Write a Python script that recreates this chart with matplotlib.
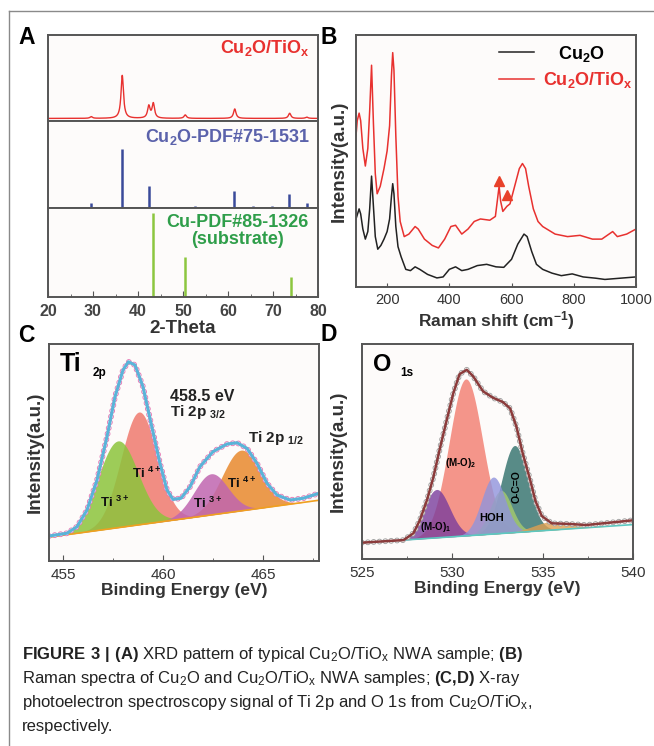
import numpy as np
import matplotlib
matplotlib.use('Agg')
import matplotlib.pyplot as plt
from matplotlib import font_manager

names = {f.name for f in font_manager.fontManager.ttflist}
narrow = 'Liberation Sans Narrow' if 'Liberation Sans Narrow' in names else 'Liberation Sans'

plt.rcParams['font.family'] = ['Liberation Sans', 'DejaVu Sans']
plt.rcParams['mathtext.fontset'] = 'custom'
plt.rcParams['mathtext.bf'] = narrow + ':bold'
plt.rcParams['mathtext.default'] = 'regular'
plt.rcParams['lines.scale_dashes'] = False

# ---------------- data ----------------
# A: XRD, measured Cu2O/TiOx peaks (2theta, height above baseline)
xrd_pos = [29.6, 36.5, 42.4, 43.4, 50.5, 61.5, 73.7, 77.5]
xrd_h = [0.02, 0.50, 0.14, 0.17, 0.04, 0.11, 0.06, 0.015]
xrd_base = 0.03
# reference sticks
cu2o_pdf_pos = [29.6, 36.5, 42.4, 52.6, 61.4, 65.6, 69.7, 73.6, 77.5]
cu2o_pdf_h = [0.06, 0.68, 0.25, 0.02, 0.20, 0.02, 0.02, 0.16, 0.06]
cu_pdf_pos = [43.3, 50.4, 74.1]
cu_pdf_h = [0.94, 0.45, 0.22]

# B: Raman spectra
raman_x_black = [100, 105, 110, 115, 122, 130, 138, 144, 150, 156, 162, 170, 180, 190, 200,
                 208, 214, 218, 222, 228, 235, 245, 260, 275, 290, 305, 330, 360, 380, 400,
                 420, 440, 460, 490, 520, 550, 575, 600, 620, 640, 650, 665, 680, 700, 730,
                 760, 795, 830, 870, 900, 950, 1000]
raman_y_black = [0.27, 0.29, 0.31, 0.29, 0.23, 0.19, 0.22, 0.31, 0.44, 0.32, 0.20, 0.15, 0.165,
                 0.19, 0.22, 0.27, 0.36, 0.41, 0.37, 0.24, 0.16, 0.12, 0.07, 0.065, 0.08, 0.07,
                 0.05, 0.036, 0.04, 0.07, 0.08, 0.065, 0.07, 0.085, 0.09, 0.08, 0.078, 0.11,
                 0.17, 0.21, 0.20, 0.14, 0.09, 0.07, 0.055, 0.045, 0.052, 0.04, 0.035, 0.03,
                 0.035, 0.04]
raman_x_red = [100, 104, 110, 115, 122, 130, 138, 144, 150, 156, 162, 168, 178, 190, 200, 208,
               214, 218, 222, 228, 235, 242, 255, 270, 290, 300, 320, 345, 365, 385, 405, 420,
               440, 460, 480, 500, 530, 548, 555, 560, 565, 572, 585, 595, 610, 625, 635, 645,
               655, 670, 685, 700, 740, 780, 820, 860, 890, 925, 940, 970, 1000]
raman_y_red = [0.60, 0.66, 0.69, 0.66, 0.55, 0.48, 0.55, 0.70, 0.88, 0.65, 0.45, 0.37, 0.40,
               0.47, 0.54, 0.64, 0.84, 0.93, 0.86, 0.60, 0.36, 0.26, 0.20, 0.21, 0.24, 0.23,
               0.19, 0.165, 0.155, 0.19, 0.24, 0.245, 0.21, 0.23, 0.26, 0.27, 0.265, 0.28,
               0.35, 0.40, 0.34, 0.30, 0.32, 0.33, 0.40, 0.47, 0.49, 0.47, 0.40, 0.31, 0.26,
               0.24, 0.21, 0.20, 0.205, 0.19, 0.19, 0.22, 0.20, 0.21, 0.23]
tri_x = [560, 585]
tri_y = [0.42, 0.365]

# C: Ti 2p, measured envelope and fit components (center eV, height, sigma)
ti_env_x = [454.3, 455.2, 455.7, 456.2, 456.7, 457.2, 457.6, 458.0, 458.27, 458.6, 459.0,
            459.4, 459.85, 460.2, 460.5, 460.9, 461.35, 461.85, 462.5, 463.2, 463.7, 464.2,
            464.7, 465.2, 465.7, 466.35, 467.0, 467.8]
ti_env_y = [0.115, 0.128, 0.158, 0.235, 0.373, 0.573, 0.757, 0.88, 0.918, 0.903, 0.803,
            0.635, 0.45, 0.327, 0.284, 0.289, 0.342, 0.435, 0.504, 0.539, 0.545, 0.519,
            0.45, 0.358, 0.304, 0.281, 0.289, 0.312]
ti_center = [458.8, 457.75, 463.9, 462.4]
ti_height = [0.52, 0.40, 0.28, 0.19]
ti_sigma = [0.90, 1.00, 0.95, 0.85]
ti_colors = ['#f07a6e', '#8cc43c', '#e8892e', '#c066b0']
ti_bg = (0.11, 0.28)
ti_xlim = (454.3, 467.8)

# D: O 1s, measured envelope and fit components
o_env_x = [525.0, 527.3, 527.85, 528.2, 528.6, 528.95, 529.3, 529.7, 530.05, 530.4, 530.8,
           531.15, 531.7, 532.25, 532.8, 533.2, 533.55, 533.9, 534.3, 534.6, 534.95, 535.5,
           536.5, 537.4, 538.35, 539.3, 540.0]
o_env_y = [0.076, 0.088, 0.12, 0.18, 0.275, 0.38, 0.51, 0.65, 0.77, 0.86, 0.88, 0.85, 0.78,
           0.75, 0.73, 0.70, 0.615, 0.49, 0.37, 0.27, 0.20, 0.166, 0.163, 0.158, 0.166,
           0.174, 0.18]
o_center = [530.75, 529.13, 533.45, 532.7, 532.27, 535.5]
o_height = [0.73, 0.225, 0.405, 0.20, 0.265, 0.04]
o_sigma = [0.92, 0.72, 0.72, 0.60, 0.65, 1.00]
o_colors = ['#f27c6e', '#7a3d9c', '#2f6f6a', '#a8cc6e', '#9094dc', '#e0a050']
o_bg = (0.075, 0.16)
o_xlim = (525, 540)


def gauss(x, c, h, s):
    return h * np.exp(-(x - c) ** 2 / (2 * s ** 2))


def lorentz(x, c, h, w):
    return h / (1 + ((x - c) / w) ** 2)


W, H = 654, 746
fig = plt.figure(figsize=(W / 100, H / 100), dpi=100)
fig.patch.set_facecolor('white')
PANEL_BG = '#fdfbfa'


def box(x0, y0, x1, y1):
    return [x0 / W, 1 - y1 / H, (x1 - x0) / W, (y1 - y0) / H]


def style(ax):
    ax.set_facecolor(PANEL_BG)
    for s in ax.spines.values():
        s.set_color('#555555')
        s.set_linewidth(1.4)
    ax.set_yticks([])


def xps_data(ax, ex, ey, ring, line, lw):
    # open circles of the measured points, then the fitted envelope on top
    dots = (0, (0.01, 4.2))
    ax.plot(ex, ey, color=ring, lw=4.2, ls=dots, dash_capstyle='round')
    ax.plot(ex, ey, color=PANEL_BG, lw=2.9, ls=dots, dash_capstyle='round')
    ax.plot(ex, ey, color=line, lw=lw, solid_joinstyle='round')


# frame lines
fig.add_artist(plt.Line2D([9 / W, 1], [1 - 11 / H, 1 - 11 / H], color='#8a8a8a', lw=1))
fig.add_artist(plt.Line2D([9 / W, 9 / W], [0, 1 - 11 / H], color='#8a8a8a', lw=1))

# ---------------- A ----------------
axA1 = fig.add_axes(box(48, 35, 318, 121))
axA2 = fig.add_axes(box(48, 121, 318, 208))
axA3 = fig.add_axes(box(48, 208, 318, 297))
for ax in (axA1, axA2, axA3):
    style(ax)
    ax.set_xlim(20, 80)
    ax.set_ylim(0, 1)
for ax in (axA1, axA2):
    ax.set_xticks([])

x = np.linspace(20, 80, 3000)
y = np.full_like(x, xrd_base)
for c, h in zip(xrd_pos, xrd_h):
    y += lorentz(x, c, h, 0.33)
axA1.plot(x, y, color='#e8312f', lw=1.0)
axA1.text(0.97, 0.85, 'Cu$_2$O/TiO$_x$', transform=axA1.transAxes, ha='right', va='center',
          color='#e8312f', fontsize=13, fontweight='bold')

axA2.vlines(cu2o_pdf_pos, 0, cu2o_pdf_h, color='#3a4a9a', lw=1.8)
axA2.text(0.97, 0.815, 'Cu$_2$O-PDF#75-1531', transform=axA2.transAxes, ha='right', va='center',
          color='#5b62ab', fontsize=13, fontweight='bold')

axA3.vlines(cu_pdf_pos, 0, cu_pdf_h, color='#8cc63f', lw=1.8)
axA3.text(0.70, 0.74, 'Cu-PDF#85-1326\n(substrate)', transform=axA3.transAxes, ha='center',
          va='center', color='#2f9e4a', fontsize=13, fontweight='bold', linespacing=1.05)
axA3.set_xticks(range(20, 81, 10))
axA3.set_xticks(range(25, 80, 10), minor=True)
axA3.tick_params(axis='x', which='major', direction='in', length=4, labelsize=11.5,
                 labelcolor='#444444', pad=5, color='#555555')
axA3.tick_params(axis='x', which='minor', direction='in', length=2.5, color='#555555')
for lbl in axA3.get_xticklabels():
    lbl.set_fontweight('bold')
axA3.set_xlabel('2-Theta', fontsize=13.5, fontweight='bold', color='#333333', labelpad=1)

# ---------------- B ----------------
axB = fig.add_axes(box(356, 35, 636, 287))
style(axB)
axB.set_xlim(100, 1000)
axB.set_ylim(0, 1)
axB.plot(raman_x_black, raman_y_black, color='#222222', lw=1.1, label='   Cu$_2$O')
axB.plot(raman_x_red, raman_y_red, color='#e8312f', lw=1.1, label='Cu$_2$O/TiO$_x$')
axB.plot(tri_x, tri_y, '^', color='#e8412a', ms=7)
axB.set_xticks(range(200, 1001, 200))
axB.tick_params(axis='x', direction='in', length=3, labelsize=10.5, labelcolor='#333333',
                color='#555555', pad=4)
axB.set_xlabel('Raman shift (cm$^{-1}$)', fontsize=12.5, fontweight='bold', color='#333333',
               labelpad=2)
axB.set_ylabel('Intensity(a.u.)', fontsize=13.5, fontweight='bold', color='#333333', labelpad=6)
leg = axB.legend(loc='upper right', bbox_to_anchor=(1.045, 1.03), frameon=False,
                 prop={'size': 13, 'weight': 'bold'}, handlelength=1.9, handletextpad=0.5,
                 labelspacing=0.35)
leg.get_texts()[1].set_color('#e8312f')

# ---------------- C ----------------
axC = fig.add_axes(box(49, 344, 319, 561))
style(axC)
axC.set_xlim(*ti_xlim)
axC.set_ylim(0, 1)
xc = np.linspace(ti_xlim[0], ti_xlim[1], 800)
bgc = ti_bg[0] + (ti_bg[1] - ti_bg[0]) * (xc - ti_xlim[0]) / (ti_xlim[1] - ti_xlim[0])
for c, h, s, col in zip(ti_center, ti_height, ti_sigma, ti_colors):
    axC.fill_between(xc, bgc, bgc + gauss(xc, c, h, s), color=col, alpha=0.85, lw=0)
axC.plot(xc, bgc, color='#f0a020', lw=1.2)
xps_data(axC, ti_env_x, ti_env_y, '#e678b4', '#5ab4d8', 2.2)
axC.set_xticks([455, 460, 465])
axC.set_xticks([457.5, 462.5, 467.5], minor=True)
axC.tick_params(axis='x', which='major', direction='in', length=4, labelsize=11,
                labelcolor='#333333', color='#555555', pad=5)
axC.tick_params(axis='x', which='minor', direction='in', length=2.5, color='#555555')
axC.set_xlabel('Binding Energy (eV)', fontsize=12.5, fontweight='bold', color='#333333',
               labelpad=1)
axC.set_ylabel('Intensity(a.u.)', fontsize=13.5, fontweight='bold', color='#333333', labelpad=4)
axC.text(0.04, 0.91, 'Ti', transform=axC.transAxes, fontsize=18, fontweight='bold', va='center')
axC.text(0.16, 0.865, '2p', transform=axC.transAxes, fontsize=8.5, fontweight='bold', va='center')
axC.text(0.448, 0.756, '458.5 eV', transform=axC.transAxes, fontsize=11.5, fontweight='bold',
         va='center', color='#222222')
axC.text(0.448, 0.687, 'Ti 2p $_{3/2}$', transform=axC.transAxes, fontsize=11,
         fontweight='bold', va='center', color='#222222')
axC.text(0.737, 0.567, 'Ti 2p $_{1/2}$', transform=axC.transAxes, fontsize=11,
         fontweight='bold', va='center', color='#222222')
for tx, ty, t in [(0.244, 0.272, 'Ti $^{3+}$'), (0.363, 0.405, 'Ti $^{4+}$'),
                  (0.589, 0.267, 'Ti $^{3+}$'), (0.715, 0.359, 'Ti $^{4+}$')]:
    axC.text(tx, ty, t, transform=axC.transAxes, fontsize=9.5, fontweight='bold', ha='center',
             va='center', color='#111111')

# ---------------- D ----------------
axD = fig.add_axes(box(362, 344, 633, 559))
style(axD)
axD.set_xlim(*o_xlim)
axD.set_ylim(0, 1)
xd = np.linspace(o_xlim[0], o_xlim[1], 800)
bgd = o_bg[0] + (o_bg[1] - o_bg[0]) * (xd - o_xlim[0]) / (o_xlim[1] - o_xlim[0])
for c, h, s, col in zip(o_center, o_height, o_sigma, o_colors):
    axD.fill_between(xd, bgd, bgd + gauss(xd, c, h, s), color=col, alpha=0.8, lw=0)
axD.plot(xd, bgd, color='#5cc8c0', lw=1.2)
xps_data(axD, o_env_x, o_env_y, '#a0a0a0', '#8b3b3b', 1.8)
axD.set_xticks([525, 530, 535, 540])
axD.set_xticks([527.5, 532.5, 537.5], minor=True)
axD.tick_params(axis='x', which='major', direction='in', length=4, labelsize=11,
                labelcolor='#333333', color='#555555', pad=5)
axD.tick_params(axis='x', which='minor', direction='in', length=2.5, color='#555555')
axD.set_xlabel('Binding Energy (eV)', fontsize=12.5, fontweight='bold', color='#333333',
               labelpad=1)
axD.set_ylabel('Intensity(a.u.)', fontsize=13.5, fontweight='bold', color='#333333', labelpad=11)
axD.text(0.04, 0.905, 'O', transform=axD.transAxes, fontsize=17, fontweight='bold', va='center')
axD.text(0.14, 0.865, '1s', transform=axD.transAxes, fontsize=8.5, fontweight='bold', va='center')
axD.text(0.362, 0.447, '(M-O)$_2$', transform=axD.transAxes, fontsize=7, fontweight='bold',
         ha='center', va='center')
axD.text(0.27, 0.149, '(M-O)$_1$', transform=axD.transAxes, fontsize=7, fontweight='bold',
         ha='center', va='center')
axD.text(0.48, 0.19, 'HOH', transform=axD.transAxes, fontsize=8, fontweight='bold',
         ha='center', va='center')
axD.text(0.572, 0.335, 'O-C=O', transform=axD.transAxes, fontsize=7.5, fontweight='bold',
         ha='center', va='center', rotation=90)

# panel letters
for lx, ly, t in [(27, 37, 'A'), (329, 37, 'B'), (26, 335, 'C'), (329, 334, 'D')]:
    fig.text(lx / W, 1 - ly / H, t, fontsize=16.5, fontweight='bold', ha='center', va='center')

# caption
cap = [r'$\mathbf{FIGURE\ 3\ |\ (A)}$ XRD pattern of typical Cu$_2$O/TiO$_x$ NWA sample; $\mathbf{(B)}$',
       r'Raman spectra of Cu$_2$O and Cu$_2$O/TiO$_x$ NWA samples; $\mathbf{(C{,}D)}$ X-ray',
       r'photoelectron spectroscopy signal of Ti 2p and O 1s from Cu$_2$O/TiO$_x$,',
       'respectively.']
for i, line in enumerate(cap):
    fig.text(22 / W, 1 - (654 + 24 * i) / H, line, fontsize=12, family=[narrow, 'DejaVu Sans'],
             color='#222222', va='center', ha='left')

fig.savefig('out.png', dpi=100)
